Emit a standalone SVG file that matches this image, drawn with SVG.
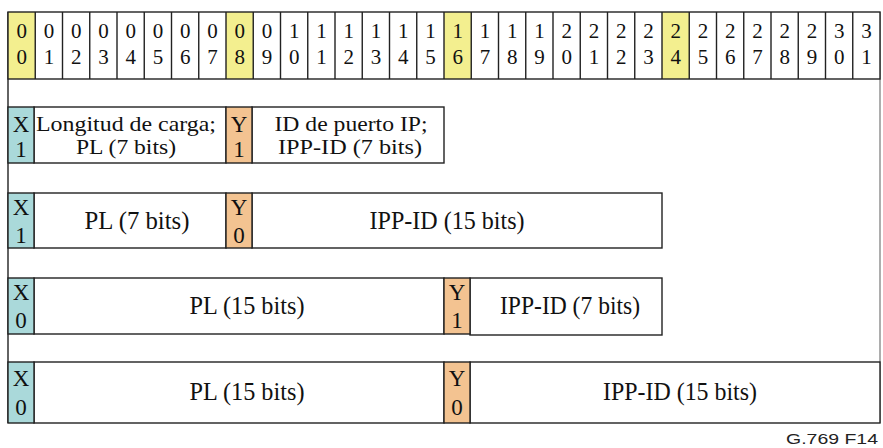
<svg xmlns="http://www.w3.org/2000/svg" width="883" height="448" viewBox="0 0 883 448">
<style>
.bg{fill:#fff}
.cell{fill:#fff;stroke:#222;stroke-width:1.4}
.hl{fill:#F3EF8F}
.x{fill:#AAD9DA;stroke:#222;stroke-width:1.4}
.y{fill:#F3C391;stroke:#222;stroke-width:1.4}
.div{stroke:#222;stroke-width:1.4}
.frameR{stroke:#777;stroke-width:1.2}
.d{font-family:"Liberation Serif","Times New Roman",serif;font-size:21px;fill:#111;text-anchor:middle}
.t{font-family:"Liberation Serif","Times New Roman",serif;font-size:22px;fill:#111;text-anchor:middle}
.xy{font-family:"Liberation Serif","Times New Roman",serif;font-size:23px;fill:#111;text-anchor:middle}
.b{font-family:"Liberation Serif","Times New Roman",serif;font-size:25px;fill:#111;text-anchor:middle}
.lab{font-family:"Liberation Sans",Arial,sans-serif;font-size:15px;fill:#222;text-anchor:end}
</style>
<rect class="bg" x="0" y="0" width="883" height="448"/>

<g id="frame">
<line x1="8" y1="12" x2="8" y2="423" class="div" stroke-width="1.8"/>
<line x1="880" y1="12" x2="880" y2="423" class="frameR"/>
</g>

<g id="header">
<rect x="8" y="12" width="872" height="67" fill="#fff"/>
<rect class="hl" x="8" y="12" width="27.25" height="67"/>
<rect class="hl" x="226" y="12" width="27.25" height="67"/>
<rect class="hl" x="444" y="12" width="27.25" height="67"/>
<rect class="hl" x="662" y="12" width="27.25" height="67"/>
<rect x="8" y="12" width="872" height="67" fill="none" stroke="#222" stroke-width="1.4"/>
<path class="div" fill="none" d="M35.25 12V79M62.5 12V79M89.75 12V79M117 12V79M144.25 12V79M171.5 12V79M198.75 12V79M226 12V79M253.25 12V79M280.5 12V79M307.75 12V79M335 12V79M362.25 12V79M389.5 12V79M416.75 12V79M444 12V79M471.25 12V79M498.5 12V79M525.75 12V79M553 12V79M580.25 12V79M607.5 12V79M634.75 12V79M662 12V79M689.25 12V79M716.5 12V79M743.75 12V79M771 12V79M798.25 12V79M825.5 12V79M852.75 12V79"/>
<text class="d" x="21.63 48.88 76.13 103.38 130.63 157.88 185.13 212.38 239.63 266.88 294.13 321.38 348.63 375.88 403.13 430.38 457.63 484.88 512.13 539.38 566.63 593.88 621.13 648.38 675.63 702.88 730.13 757.38 784.63 811.88 839.13 866.38" y="38">00000000001111111111222222222233</text>
<text class="d" x="21.63 48.88 76.13 103.38 130.63 157.88 185.13 212.38 239.63 266.88 294.13 321.38 348.63 375.88 403.13 430.38 457.63 484.88 512.13 539.38 566.63 593.88 621.13 648.38 675.63 702.88 730.13 757.38 784.63 811.88 839.13 866.38" y="64">01234567890123456789012345678901</text>
</g>

<g id="row1">
<rect class="cell" x="34" y="107" width="192" height="56"/>
<rect class="cell" x="252" y="107" width="192" height="56"/>
<rect class="x" x="8" y="107" width="26" height="56"/>
<rect class="y" x="226" y="107" width="26" height="56"/>
<text class="xy" x="21" y="132">X</text><text class="xy" x="21" y="157">1</text>
<text class="xy" x="239" y="132">Y</text><text class="xy" x="239" y="157">1</text>
<text class="t" x="126" y="131" textLength="180" lengthAdjust="spacingAndGlyphs">Longitud de carga;</text>
<text class="t" x="126" y="154" textLength="100" lengthAdjust="spacingAndGlyphs">PL (7 bits)</text>
<text class="t" x="351" y="131" textLength="153" lengthAdjust="spacingAndGlyphs">ID de puerto IP;</text>
<text class="t" x="350" y="154" textLength="144" lengthAdjust="spacingAndGlyphs">IPP-ID (7 bits)</text>
</g>

<g id="row2">
<rect class="cell" x="34" y="193" width="192" height="55"/>
<rect class="cell" x="252" y="193" width="410" height="55"/>
<rect class="x" x="8" y="193" width="26" height="55"/>
<rect class="y" x="226" y="193" width="26" height="55"/>
<text class="xy" x="21" y="215">X</text><text class="xy" x="21" y="243">1</text>
<text class="xy" x="239" y="215">Y</text><text class="xy" x="239" y="243">0</text>
<text class="b" x="137" y="229" textLength="105" lengthAdjust="spacingAndGlyphs">PL (7 bits)</text>
<text class="b" x="447" y="229" textLength="155" lengthAdjust="spacingAndGlyphs">IPP-ID (15 bits)</text>
</g>

<g id="row3">
<rect class="cell" x="34" y="278" width="410" height="56"/>
<rect class="cell" x="470" y="278" width="192" height="57"/>
<rect class="x" x="8" y="278" width="26" height="56"/>
<rect class="y" x="444" y="278" width="26" height="56"/>
<text class="xy" x="21" y="300">X</text><text class="xy" x="21" y="328">0</text>
<text class="xy" x="457" y="300">Y</text><text class="xy" x="457" y="328">1</text>
<text class="b" x="247" y="314" textLength="115" lengthAdjust="spacingAndGlyphs">PL (15 bits)</text>
<text class="b" x="570" y="314" textLength="140" lengthAdjust="spacingAndGlyphs">IPP-ID (7 bits)</text>
</g>

<g id="row4">
<rect class="cell" x="34" y="362" width="410" height="61"/>
<rect class="cell" x="470" y="362" width="410" height="61"/>
<rect class="x" x="8" y="362" width="26" height="61"/>
<rect class="y" x="444" y="362" width="26" height="61"/>
<text class="xy" x="21" y="386">X</text><text class="xy" x="21" y="415">0</text>
<text class="xy" x="457" y="386">Y</text><text class="xy" x="457" y="415">0</text>
<text class="b" x="247" y="400" textLength="115" lengthAdjust="spacingAndGlyphs">PL (15 bits)</text>
<text class="b" x="680" y="400" textLength="154" lengthAdjust="spacingAndGlyphs">IPP-ID (15 bits)</text>
</g>

<text class="lab" x="878" y="444" textLength="92" lengthAdjust="spacingAndGlyphs">G.769  F14</text>
</svg>
